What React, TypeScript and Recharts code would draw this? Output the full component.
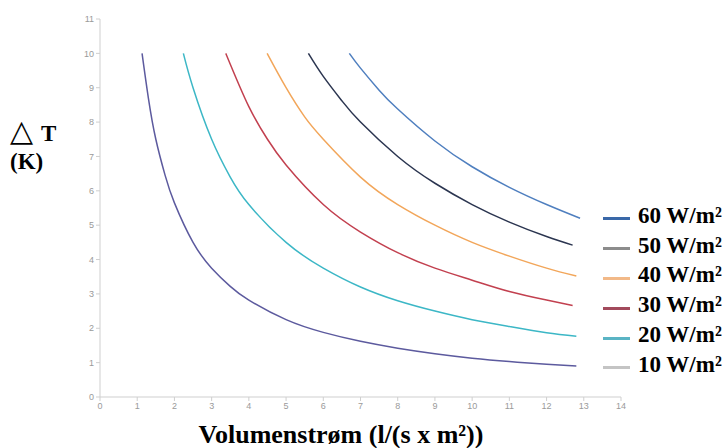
import { Line, LineChart, XAxis, YAxis } from 'recharts';

// Volumenstrøm (x) and ΔT (y), one pair of arrays per heat load
const flow10 = [1.13, 1.3, 1.5, 1.75, 2, 2.5, 3, 3.5, 4, 5, 6, 7, 8, 9, 10, 11, 12, 12.8];
const dt10 = [10, 8.7, 7.5, 6.45, 5.65, 4.5, 3.75, 3.22, 2.82, 2.25, 1.88, 1.62, 1.42, 1.26, 1.13, 1.03, 0.95, 0.9];

const flow20 = [2.24, 2.5, 3, 3.5, 4, 5, 6, 7, 8, 9, 10, 11, 12, 12.8];
const dt20 = [10, 9, 7.5, 6.4, 5.6, 4.5, 3.75, 3.2, 2.8, 2.5, 2.25, 2.05, 1.87, 1.77];

const flow30 = [3.38, 4, 4.5, 5, 6, 7, 8, 9, 10, 11, 12, 12.7];
const dt30 = [10, 8.45, 7.5, 6.75, 5.6, 4.8, 4.2, 3.75, 3.4, 3.07, 2.82, 2.66];

const flow40 = [4.49, 5, 5.5, 6, 7, 8, 9, 10, 11, 12, 12.8];
const dt40 = [10, 9, 8.15, 7.5, 6.4, 5.6, 5, 4.5, 4.1, 3.75, 3.52];

const flow50 = [5.6, 6, 6.5, 7, 8, 9, 10, 11, 12, 12.7];
const dt50 = [10, 9.33, 8.62, 8, 7, 6.22, 5.6, 5.09, 4.67, 4.42];

const flow60 = [6.7, 7, 7.5, 8, 9, 10, 11, 12, 12.9];
const dt60 = [10, 9.57, 8.93, 8.38, 7.45, 6.7, 6.1, 5.6, 5.2];

const xTicks = [0, 1, 2, 3, 4, 5, 6, 7, 8, 9, 10, 11, 12, 13, 14];
const yTicks = [0, 1, 2, 3, 4, 5, 6, 7, 8, 9, 10, 11];

const toPoints = (flow: number[], dt: number[]) => flow.map((v, i) => ({ v, dt: dt[i] }));

const series = [
  { name: '60 W/m²', data: toPoints(flow60, dt60), color: '#4f7fbf', swatch: '#3a68a8' },
  { name: '50 W/m²', data: toPoints(flow50, dt50), color: '#2b3550', swatch: '#8c8c8c' },
  { name: '40 W/m²', data: toPoints(flow40, dt40), color: '#f2a65a', swatch: '#f2b988' },
  { name: '30 W/m²', data: toPoints(flow30, dt30), color: '#c2404f', swatch: '#a24a5c' },
  { name: '20 W/m²', data: toPoints(flow20, dt20), color: '#3cb7c6', swatch: '#5ab4c4' },
  { name: '10 W/m²', data: toPoints(flow10, dt10), color: '#5c5a9e', swatch: '#c4c4c4' },
];

const serif = '"Liberation Serif", "Times New Roman", serif';
const tickStyle = { fontSize: 9, fill: '#9a9a9a', fontFamily: 'Arial, sans-serif' };

function LegendBox() {
  return (
    <div style={{ position: 'absolute', left: 603, top: 204, fontFamily: serif, fontWeight: 'bold', fontSize: 23, color: '#000' }}>
      {series.map(s => (
        <div key={s.name} style={{ display: 'flex', alignItems: 'center', height: 29.8, whiteSpace: 'nowrap' }}>
          <span style={{ display: 'inline-block', width: 27, height: 3, background: s.swatch, marginRight: 8 }} />
          <span style={{ marginTop: -6 }}>{s.name}</span>
        </div>
      ))}
    </div>
  );
}

export default function App() {
  return (
    <div style={{ position: 'absolute', left: 0, top: 0, width: 728, height: 448, background: '#fff', overflow: 'hidden' }}>
      <LineChart width={728} height={448} margin={{ top: 19, right: 107, bottom: 31, left: 70 }}>
        <XAxis
          dataKey="v"
          type="number"
          domain={[0, 14]}
          ticks={xTicks}
          allowDuplicatedCategory={false}
          stroke="#cfcfcf"
          tickSize={4}
          tick={tickStyle}
          height={20}
        />
        <YAxis
          type="number"
          domain={[0, 11]}
          ticks={yTicks}
          stroke="#cfcfcf"
          tickSize={4}
          tick={tickStyle}
          width={30}
        />
        {series.map(s => (
          <Line
            key={s.name}
            data={s.data}
            dataKey="dt"
            name={s.name}
            type="natural"
            stroke={s.color}
            strokeWidth={1.5}
            dot={false}
            isAnimationActive={false}
          />
        ))}
      </LineChart>
      <LegendBox />
      <div style={{ position: 'absolute', left: 10, top: 117, fontFamily: serif, fontWeight: 'bold', fontSize: 23, lineHeight: '28px' }}>
        <div><span style={{ fontSize: 30, fontWeight: 'normal', marginRight: 8 }}>△</span>T</div>
        <div>(K)</div>
      </div>
      <div style={{ position: 'absolute', left: 0, top: 420, width: 682, textAlign: 'center', fontFamily: serif, fontWeight: 'bold', fontSize: 26 }}>
        Volumenstrøm (l/(s x m²))
      </div>
    </div>
  );
}
